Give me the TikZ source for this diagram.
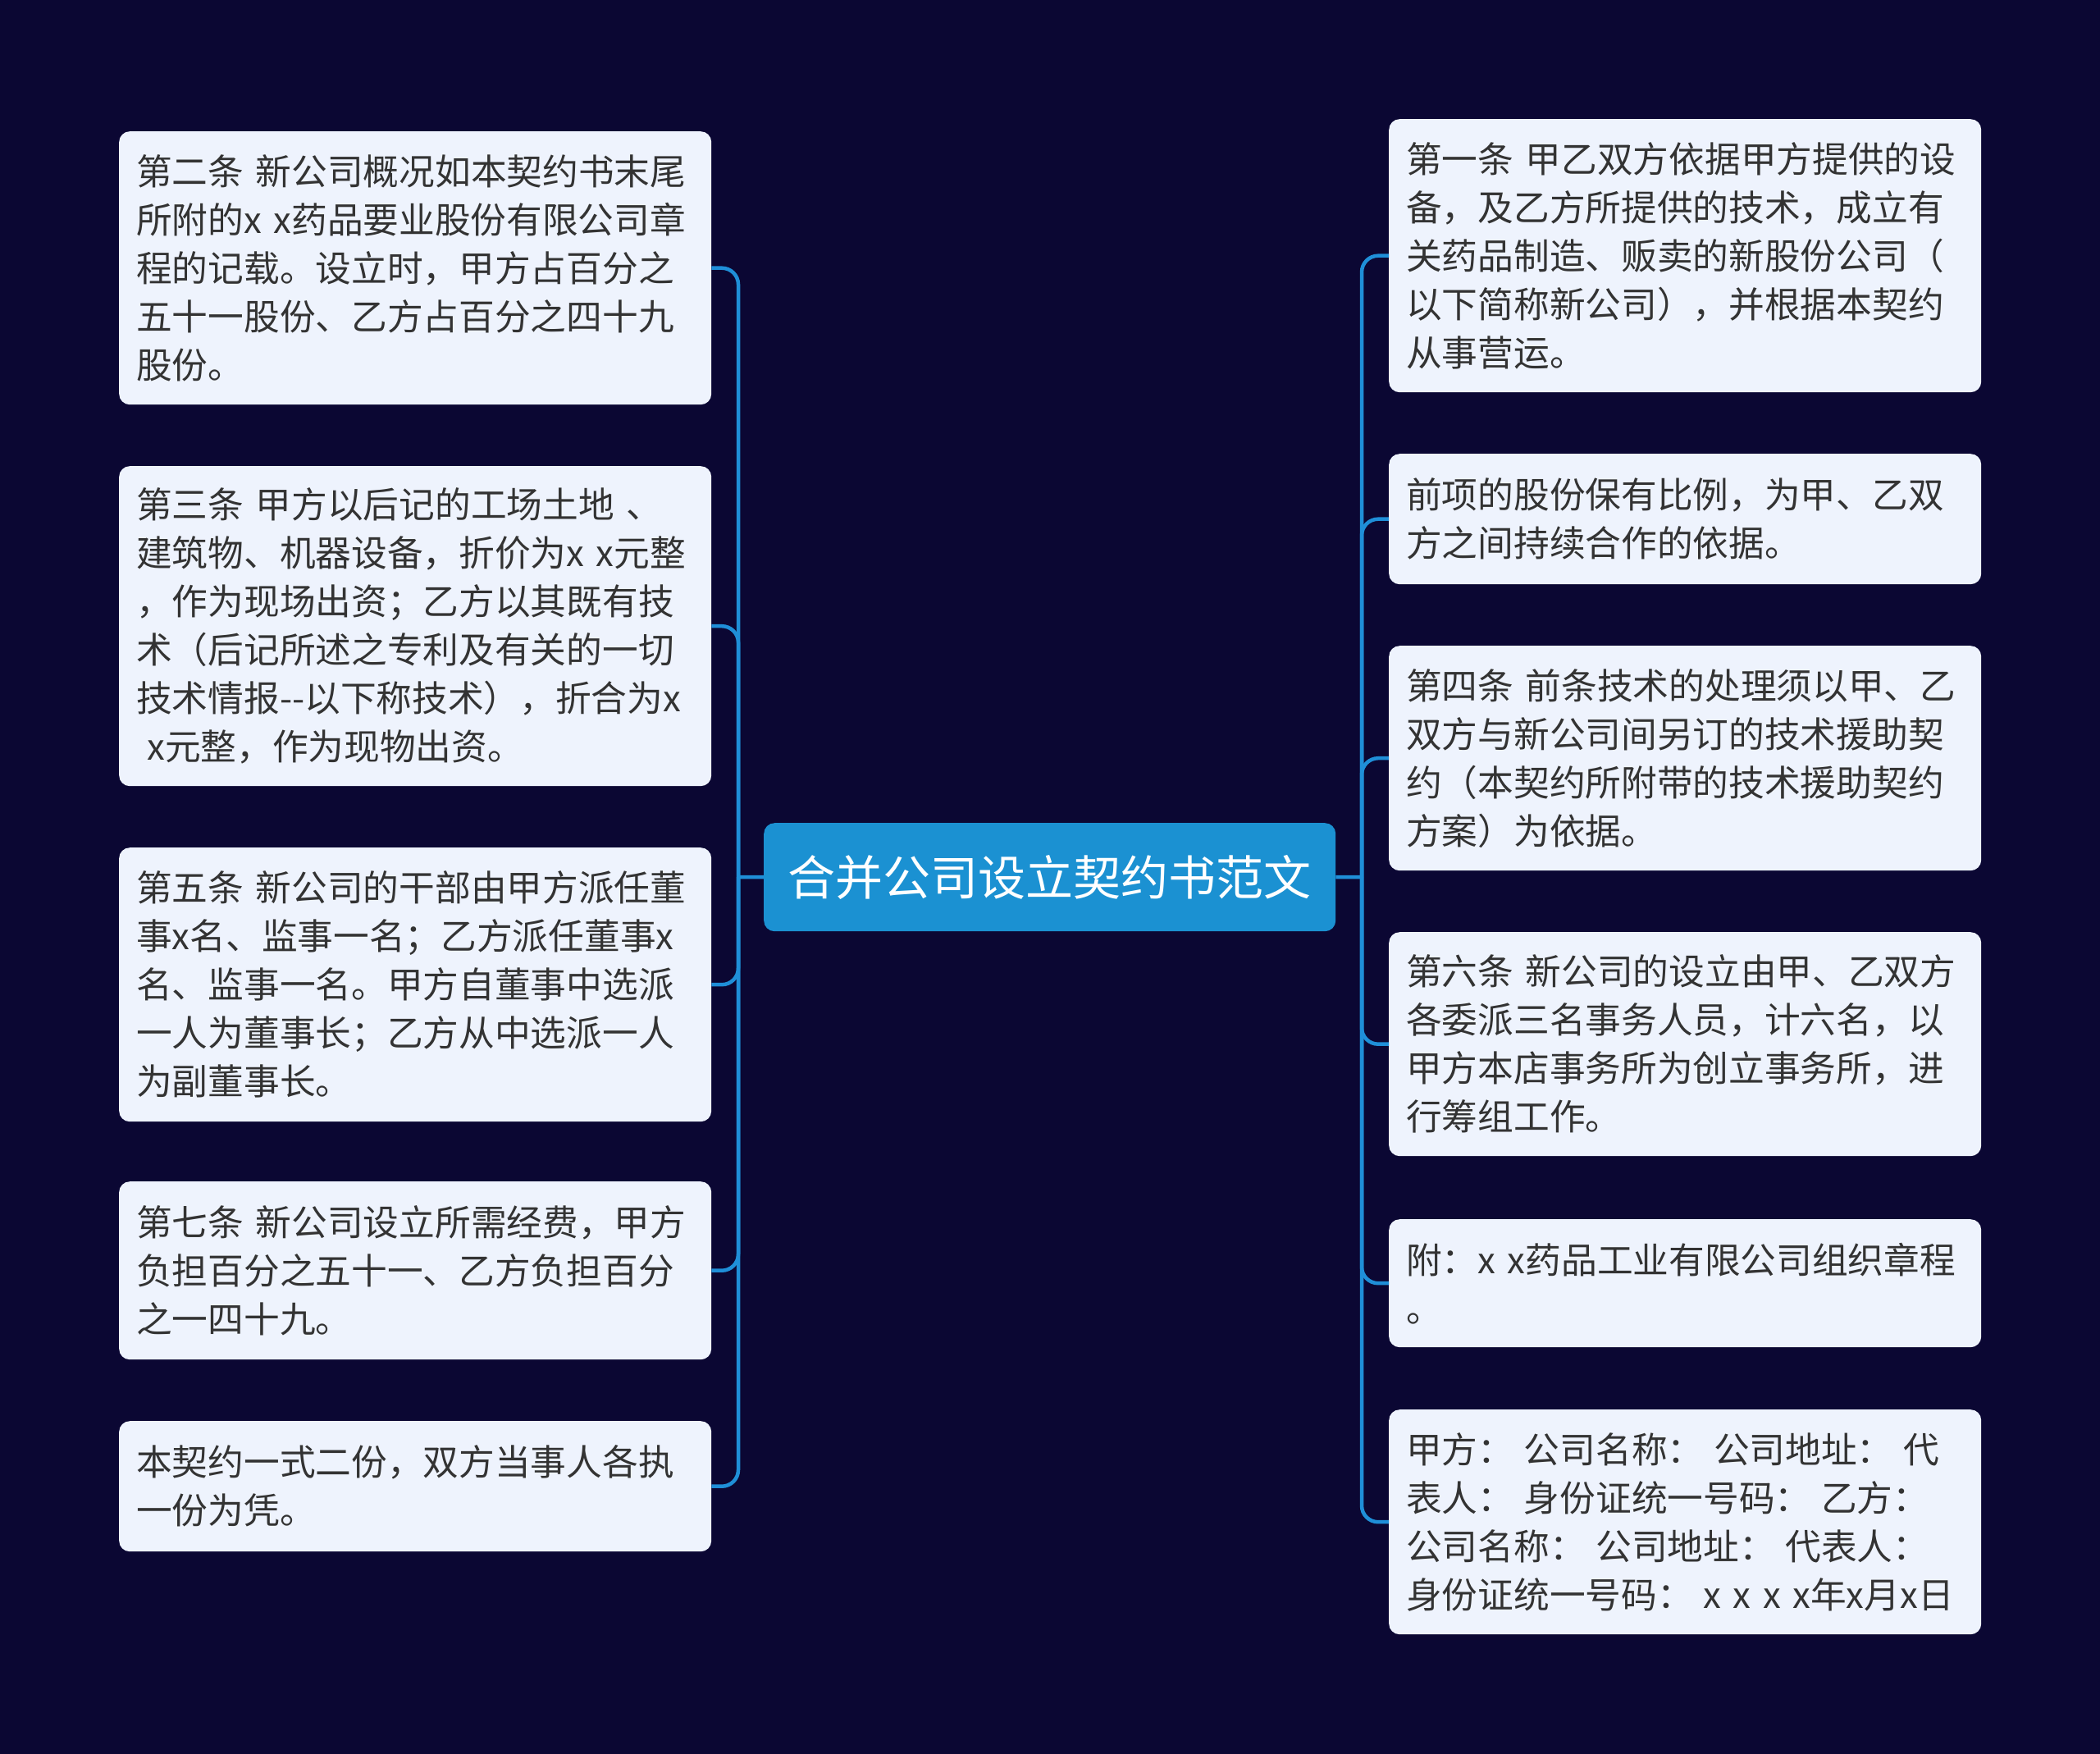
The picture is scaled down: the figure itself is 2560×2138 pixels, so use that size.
\documentclass[tikz,border=0pt]{standalone}
\usepackage{fontspec}
\setmainfont{Noto Sans CJK SC}
\definecolor{bgc}{HTML}{0B0733}
\definecolor{leaffill}{HTML}{EEF3FD}
\definecolor{leaftext}{HTML}{333333}
\definecolor{rootfill}{HTML}{1B91D2}
\definecolor{linkc}{HTML}{1F8FD8}
\newcommand{\gp}{\hspace{0.29em}}
\tikzset{
 leaf/.style={fill=leaffill, rounded corners=13pt, anchor=north west, text width=680pt, inner xsep=21pt, inner ysep=0pt, align=left, text=leaftext, font=\fontsize{43.7}{59}\selectfont},
 rootbox/.style={fill=rootfill, rounded corners=13pt, text=white, font=\fontsize{58}{70}\selectfont, minimum width=697pt, minimum height=132pt, anchor=north west, inner sep=0pt},
 link/.style={draw=linkc, line width=4.5pt, rounded corners=20pt},
}
\begin{document}
\begin{tikzpicture}[x=1pt,y=-1pt]
\fill[bgc] (0,0) rectangle (2560,2138);
\useasboundingbox (0,0) rectangle (2560,2138);

\node[rootbox] (root) at (931,1003) {合并公司设立契约书范文};

% left leaves
\node[leaf, minimum height=333pt] (l1) at (145,160) {第二条 新公司概况如本契约书末尾\\所附的x x药品要业股份有限公司章\\程的记载。设立时，甲方占百分之\\五十一股份、乙方占百分之四十九\\股份。};
\node[leaf, minimum height=390pt] (l2) at (145,568) {第三条 甲方以后记的工场土地 、\\建筑物、机器设备，折价为x x元整\\，作为现场出资；乙方以其既有技\\术（后记所述之专利及有关的一切\\技术情报{-}{-}以下称技术），折合为x\\\hspace*{0.3em}x元整，作为现物出资。};
\node[leaf, minimum height=334pt] (l3) at (145,1033) {第五条 新公司的干部由甲方派任董\\事x名、监事一名；乙方派任董事x\\名、监事一名。甲方自董事中选派\\一人为董事长；乙方从中选派一人\\为副董事长。};
\node[leaf, minimum height=217pt] (l4) at (145,1440) {第七条 新公司设立所需经费，甲方\\负担百分之五十一、乙方负担百分\\之一四十九。};
\node[leaf, minimum height=159pt] (l5) at (145,1732) {本契约一式二份，双方当事人各执\\一份为凭。};

% right leaves
\node[leaf, minimum height=333pt] (r1) at (1693,145) {第一条 甲乙双方依据甲方提供的设\\备，及乙方所提供的技术，成立有\\关药品制造、贩卖的新股份公司（\\以下简称新公司），并根据本契约\\从事营运。};
\node[leaf, minimum height=159pt] (r2) at (1693,553) {前项的股份保有比例，为甲、乙双\\方之间持续合作的依据。};
\node[leaf, minimum height=274pt] (r3) at (1693,787) {第四条 前条技术的处理须以甲、乙\\双方与新公司间另订的技术援助契\\约（本契约所附带的技术援助契约\\方案）为依据。};
\node[leaf, minimum height=273pt] (r4) at (1693,1136) {第六条 新公司的设立由甲、乙双方\\各委派三名事务人员，计六名，以\\甲方本店事务所为创立事务所，进\\行筹组工作。};
\node[leaf, minimum height=156pt] (r5) at (1693,1486) {附：x x药品工业有限公司组织章程\\。};
\node[leaf, minimum height=274pt] (r6) at (1693,1718) {甲方：\gp 公司名称：\gp 公司地址：\gp 代\\表人：\gp 身份证统一号码：\gp 乙方：\\公司名称：\gp 公司地址：\gp 代表人：\\身份证统一号码：\gp x x x x年x月x日};

% connectors
\coordinate (lj) at (900,1069);
\coordinate (rj) at (1660,1069);
\draw[link] (root.west) -- (lj);
\draw[link] (root.east) -- (rj);
\foreach \n in {l1,l2,l3,l4,l5} { \draw[link] (lj) |- (\n.east); }
\foreach \n in {r1,r2,r3,r4,r5,r6} { \draw[link] (rj) |- (\n.west); }
\end{tikzpicture}
\end{document}
